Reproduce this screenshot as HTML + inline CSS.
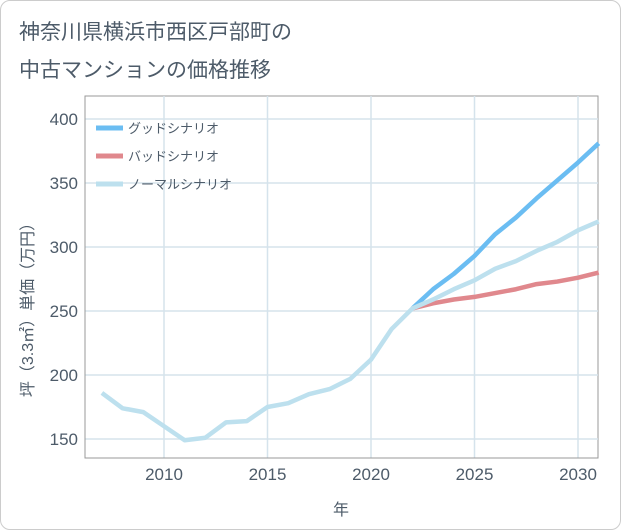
<!DOCTYPE html>
<html><head><meta charset="utf-8"><style>
body{margin:0;background:#fff;font-family:"Liberation Sans","Noto Sans CJK JP",sans-serif;}
#wrap{position:relative;width:619px;height:528px;border:1px solid #ccc;border-radius:10px;overflow:hidden;background:#fff;}
</style></head><body>
<div id="wrap">
<svg id="chart" width="619" height="528"></svg>
</div>
<script>
const years=[2007,2008,2009,2010,2011,2012,2013,2014,2015,2016,2017,2018,2019,2020,2021,2022,2023,2024,2025,2026,2027,2028,2029,2030,2031];
const normalVals=[186,174,171,160,149,151,163,164,175,178,185,189,197,212,236,252,259,267,274,283,289,297,304,313,320];
const goodYears=[2022,2023,2024,2025,2026,2027,2028,2029,2030,2031];
const goodVals=[252,267,279,293,310,323,338,352,366,381];
const badVals=[252,256,259,261,264,267,271,273,276,280];
const xTicks=[2010,2015,2020,2025,2030];
const yTicks=[150,200,250,300,350,400];
const NS="http://www.w3.org/2000/svg";
const svg=document.getElementById('chart');
const L=84,R=597,T=95,B=457;
const TC='#4d5b69';
const x=v=>163+(v-2010)*(577-163)/20;
const y=v=>438-(v-150)*1.28;
function el(t,a,p){const e=document.createElementNS(NS,t);for(const k in a)e.setAttribute(k,a[k]);(p||svg).appendChild(e);return e;}
function txt(s,a){const e=el('text',a);e.textContent=s;return e;}
const t1=txt('神奈川県横浜市西区戸部町の',{x:18,y:38,'font-size':21,fill:TC});

const t2=txt('中古マンションの価格推移',{x:18,y:76,'font-size':21,fill:TC});

const bg=el('rect',{x:L,y:T,width:R-L,height:B-T,fill:'#fff',stroke:'#999','stroke-width':1});

xTicks.forEach(v=>{const g=el('line',{x1:x(v),x2:x(v),y1:T,y2:B,stroke:'#d5e3ec','stroke-width':1.5});

const l=txt(v,{x:x(v),y:479,'font-size':17,fill:TC,'text-anchor':'middle'});
});
yTicks.forEach(v=>{const g=el('line',{x1:L,x2:R,y1:y(v),y2:y(v),stroke:'#d5e3ec','stroke-width':1.5});

const l=txt(v,{x:77,y:y(v)+6,'font-size':17,fill:TC,'text-anchor':'end'});
});
el('line',{x1:L,x2:L,y1:T,y2:B,stroke:'#999'});el('line',{x1:L,x2:R,y1:B,y2:B,stroke:'#999'});
function line(xs,vs,c,name){const p=el('polyline',{points:xs.map((v,i)=>x(v)+','+y(vs[i])).join(' '),fill:'none',stroke:c,'stroke-width':4.5,'stroke-linejoin':'round'});
}
line(goodYears,goodVals,'#6bbdf2','good-scenario-line');
line(goodYears,badVals,'#e0888d','bad-scenario-line');
line(years,normalVals,'#bde0ee','normal-scenario-line');
const leg=[['グッドシナリオ','#6bbdf2'],['バッドシナリオ','#e0888d'],['ノーマルシナリオ','#bde0ee']];
leg.forEach((d,i)=>{const yy=127+i*28;
const s=el('line',{x1:95,x2:122,y1:yy,y2:yy,stroke:d[1],'stroke-width':5});

const l=txt(d[0],{x:127,y:yy+5,'font-size':13,fill:TC});
});
const xt=txt('年',{x:340,y:514,'font-size':16,fill:TC,'text-anchor':'middle'});

const yt=txt('坪（3.3㎡）単価（万円）',{x:0,y:0,'font-size':16,fill:TC,'text-anchor':'middle',transform:'translate(32,305) rotate(-90)'});

</script>
</body></html>
